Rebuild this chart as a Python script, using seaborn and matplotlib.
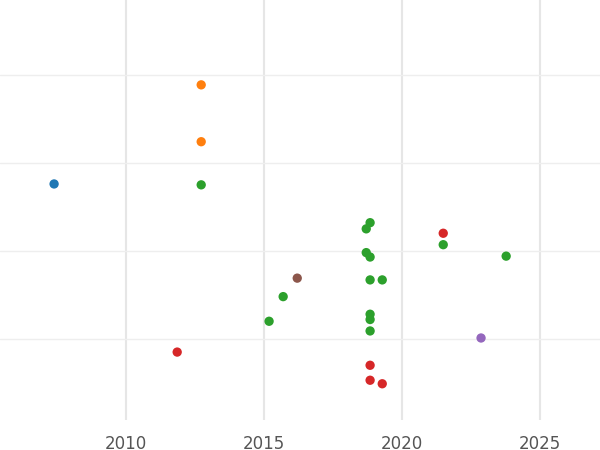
import pandas as pd
import seaborn as sns
import matplotlib.pyplot as plt

years = [2007.39, 2012.72, 2012.72, 2012.72, 2018.84, 2018.70, 2021.49, 2021.49,
         2018.70, 2018.84, 2023.77, 2016.20, 2018.84, 2019.28, 2015.69, 2015.18,
         2018.84, 2018.84, 2018.84, 2022.86, 2011.85, 2018.84, 2018.84, 2019.28]
values = [2.76, 3.886, 3.24, 2.75, 2.32, 2.25, 2.20, 2.07,
          1.98, 1.93, 1.94, 1.69, 1.67, 1.67, 1.48, 1.20,
          1.28, 1.22, 1.09, 1.01, 0.85, 0.70, 0.53, 0.49]
groups = ['a', 'b', 'b', 'c', 'c', 'c', 'd', 'c',
          'c', 'c', 'c', 'f', 'c', 'c', 'c', 'c',
          'c', 'c', 'c', 'e', 'd', 'd', 'd', 'd']

colors = {'a': '#1f77b4', 'b': '#ff7f0e', 'c': '#2ca02c',
          'd': '#d62728', 'e': '#9467bd', 'f': '#8c564b'}

df = pd.DataFrame({'year': years, 'value': values, 'group': groups})

sns.set_theme(style='whitegrid')
fig = plt.figure(figsize=(6, 4.5), dpi=100)
ax = fig.add_axes([0, 0.067, 1, 0.933])
sns.scatterplot(data=df, x='year', y='value', hue='group', palette=colors,
                s=45, edgecolor='none', legend=False, ax=ax)
ax.set_xlim(2005.43, 2027.17)
ax.set_ylim(0.08, 4.85)
ax.set_xticks([2010, 2015, 2020, 2025])
ax.set_yticks([1, 2, 3, 4])
ax.set_yticklabels([])
ax.tick_params(axis='y', length=0)
ax.tick_params(axis='x', labelsize=12, colors='#555555', length=0, pad=11)
ax.grid(axis='x', color='#e6e6e6', linewidth=1.5)
ax.grid(axis='y', color='#eeeeee', linewidth=1)
ax.set_facecolor('white')
for s in ax.spines.values():
    s.set_visible(False)
ax.set_xlabel('')
ax.set_ylabel('')
fig.savefig('out.png', dpi=100)
